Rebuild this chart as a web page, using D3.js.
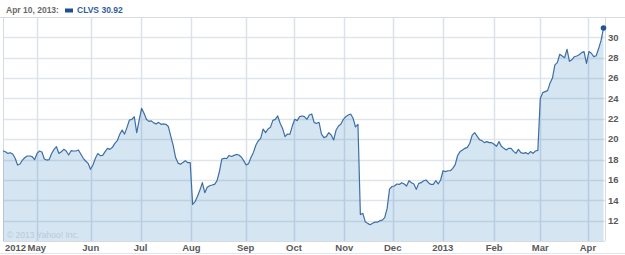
<!DOCTYPE html>
<html>
<head>
<meta charset="utf-8">
<script src="https://cdn.jsdelivr.net/npm/d3@7"></script>
<style>
  body { margin: 0; background: #fff; }
  text { font-family: "Liberation Sans", Arial, sans-serif; }
</style>
</head>
<body>
<div id="chart"></div>
<script>
// daily closes, Apr 11 2012 .. Apr 10 2013 (one per trading day)
const closes = [
  18.87, 18.77, 18.6, 18.67, 18.54, 18.12, 17.46, 17.56, 17.95, 18.2,
  18.35, 18.35, 18.28, 18.0, 18.6, 18.84, 18.74, 18.05, 17.95, 18.0,
  18.6, 19.0, 19.26, 18.6, 18.77, 19.0, 18.84, 18.45, 18.87, 18.84,
  18.84, 18.94, 18.54, 18.12, 17.86, 17.63, 17.04, 17.46, 18.12, 18.6,
  18.38, 18.41, 18.77, 19.1, 19.0, 19.2, 19.59, 19.85, 20.47, 20.9,
  20.5, 21.16, 21.88, 21.95, 22.2, 20.64, 21.88, 23.03, 22.54, 21.95,
  21.75, 21.8, 21.6, 21.5, 21.65, 21.46, 21.5, 21.46, 21.25, 20.3,
  19.4, 18.2, 17.65, 17.53, 17.72, 17.89, 17.69, 17.69, 13.6, 13.86,
  14.4, 15.0, 15.73, 14.75, 15.27, 15.43, 15.5, 15.56, 15.9, 16.8,
  18.05, 18.12, 18.1, 18.4, 18.3, 18.41, 18.5, 18.45, 18.25, 17.89,
  17.46, 17.6, 18.2, 18.7, 19.4, 19.85, 20.08, 21.0, 20.64, 21.0,
  21.16, 21.85, 21.95, 22.28, 21.56, 21.06, 20.25, 20.51, 20.48, 21.29,
  21.95, 21.82, 22.21, 22.28, 22.21, 21.95, 22.37, 22.47, 21.62, 21.56,
  21.65, 20.5, 20.15, 20.25, 20.64, 20.41, 19.92, 20.9, 21.3, 21.49,
  21.95, 22.21, 22.37, 22.47, 22.05, 21.2, 21.46, 12.6, 12.71, 11.9,
  11.73, 11.6, 11.75, 11.85, 11.85, 12.0, 12.05, 12.3, 13.2, 15.1,
  15.35, 15.4, 15.6, 15.56, 15.73, 15.6, 15.4, 15.92, 15.73, 15.6,
  15.07, 15.66, 15.73, 15.92, 15.99, 15.73, 15.56, 15.56, 15.92, 15.6,
  15.99, 16.9, 16.81, 16.9, 16.9, 17.13, 17.5, 18.4, 18.78, 18.94,
  19.1, 19.2, 19.6, 20.4, 20.64, 20.3, 19.95, 19.86, 19.66, 19.76,
  19.66, 19.66, 19.5, 19.3, 19.76, 19.3, 19.1, 18.94, 19.1, 19.1,
  18.8, 18.61, 19.0, 18.68, 18.61, 18.68, 18.55, 18.78, 18.61, 18.84,
  18.9, 24.0, 24.57, 24.67, 24.77, 25.5, 26.0, 27.3, 27.52, 28.34,
  28.17, 28.0, 28.83, 27.65, 27.8, 28.1, 28.17, 28.3, 28.5, 28.6,
  27.45, 28.6, 28.44, 28.11, 28.2, 28.9, 29.7, 30.92
];

const monthLabels = ["May", "Jun", "Jul", "Aug", "Sep", "Oct", "Nov", "Dec", "2013", "Feb", "Mar", "Apr"];
const monthPos = [13.9, 36.1, 56.6, 77.5, 99.8, 119.7, 140.4, 160.3, 180.9, 202, 221, 240.6];
const yTicks = [12, 14, 16, 18, 20, 22, 24, 26, 28, 30];

const symbol = "CLVS";
const lastDate = "Apr 10, 2013:";

const width = 625;
const height = 255;
const plot = { left: 3, right: 605, top: 17, bottom: 241 };

const svg = d3.select("#chart")
  .append("svg")
  .attr("width", width)
  .attr("height", height);

const x = d3.scaleLinear()
  .domain([0, closes.length - 1])
  .range([plot.left, 603.5]);

const y = d3.scaleLinear()
  .domain([10, 32])
  .range([plot.bottom, plot.top]);

// frame lines
svg.append("line")
  .attr("x1", 0).attr("x2", width)
  .attr("y1", plot.top + 0.5).attr("y2", plot.top + 0.5)
  .attr("stroke", "#d4dbe1");
svg.append("line")
  .attr("x1", 0).attr("x2", width)
  .attr("y1", 253.5).attr("y2", 253.5)
  .attr("stroke", "#e2e6ea");

// grid
const grid = svg.append("g");
grid.selectAll(".hg")
  .data(yTicks)
  .enter()
  .append("line")
  .attr("x1", plot.left).attr("x2", plot.right)
  .attr("y1", (d) => Math.round(y(d)) + 0.5)
  .attr("y2", (d) => Math.round(y(d)) + 0.5)
  .attr("stroke", "#dfe5ea")
  .attr("stroke-width", 1.5);

grid.selectAll(".vg")
  .data(monthPos)
  .enter()
  .append("line")
  .attr("x1", (d) => Math.round(x(d)) + 0.5)
  .attr("x2", (d) => Math.round(x(d)) + 0.5)
  .attr("y1", plot.top)
  .attr("y2", plot.bottom)
  .attr("stroke", "#dbe2e9")
  .attr("stroke-width", 1.5);

[plot.left, plot.right].forEach((px) => {
  svg.append("line")
    .attr("x1", px + 0.5).attr("x2", px + 0.5)
    .attr("y1", plot.top).attr("y2", plot.bottom)
    .attr("stroke", "#d4dbe1");
});

const area = d3.area()
  .x((d, i) => x(i))
  .y0(y(10))
  .y1((d) => y(d));

const line = d3.line()
  .x((d, i) => x(i))
  .y((d) => y(d));

svg.append("path")
  .datum(closes)
  .attr("fill", "#2f7fbf")
  .attr("fill-opacity", 0.2)
  .attr("d", area);

svg.append("line")
  .attr("x1", plot.left).attr("x2", plot.right)
  .attr("y1", plot.bottom + 0.5).attr("y2", plot.bottom + 0.5)
  .attr("stroke", "#d4dbe1");

svg.append("text")
  .attr("x", 7)
  .attr("y", 238)
  .attr("font-size", 8.5)
  .attr("fill", "#b9cad8")
  .text("© 2013 Yahoo! Inc.");

svg.append("path")
  .datum(closes)
  .attr("fill", "none")
  .attr("stroke", "#3d6fa6")
  .attr("stroke-width", 1.2)
  .attr("stroke-linejoin", "round")
  .attr("d", line);

svg.append("circle")
  .attr("cx", x(closes.length - 1))
  .attr("cy", y(closes[closes.length - 1]))
  .attr("r", 2.8)
  .attr("fill", "#24568f");

// right axis labels
svg.selectAll(".ylab")
  .data(yTicks)
  .enter()
  .append("text")
  .attr("x", 608)
  .attr("y", (d) => y(d) + 3.3)
  .attr("font-size", 9.5)
  .attr("font-weight", "bold")
  .attr("fill", "#5a5a5a")
  .text((d) => d);

// bottom axis labels
svg.selectAll(".xlab")
  .data(monthLabels)
  .enter()
  .append("text")
  .attr("x", (d, i) => x(monthPos[i]))
  .attr("y", 251)
  .attr("text-anchor", "middle")
  .attr("font-size", 9.5)
  .attr("font-weight", "bold")
  .attr("fill", "#5a5a5a")
  .text((d) => d);

svg.append("text")
  .attr("x", 5)
  .attr("y", 251)
  .attr("font-size", 9.5)
  .attr("font-weight", "bold")
  .attr("fill", "#5a5a5a")
  .text("2012");

// header
svg.append("text")
  .attr("x", 6)
  .attr("y", 12.5)
  .attr("font-size", 8.5)
  .attr("font-weight", "bold")
  .attr("fill", "#6a6a6a")
  .text(lastDate);

svg.append("rect")
  .attr("x", 65).attr("y", 8.5)
  .attr("width", 8).attr("height", 4)
  .attr("fill", "#1f4f8f");

svg.append("text")
  .attr("x", 77)
  .attr("y", 12.5)
  .attr("font-size", 8.5)
  .attr("font-weight", "bold")
  .attr("fill", "#2f5d9a")
  .text(symbol + " " + closes[closes.length - 1].toFixed(2));
</script>
</body>
</html>
